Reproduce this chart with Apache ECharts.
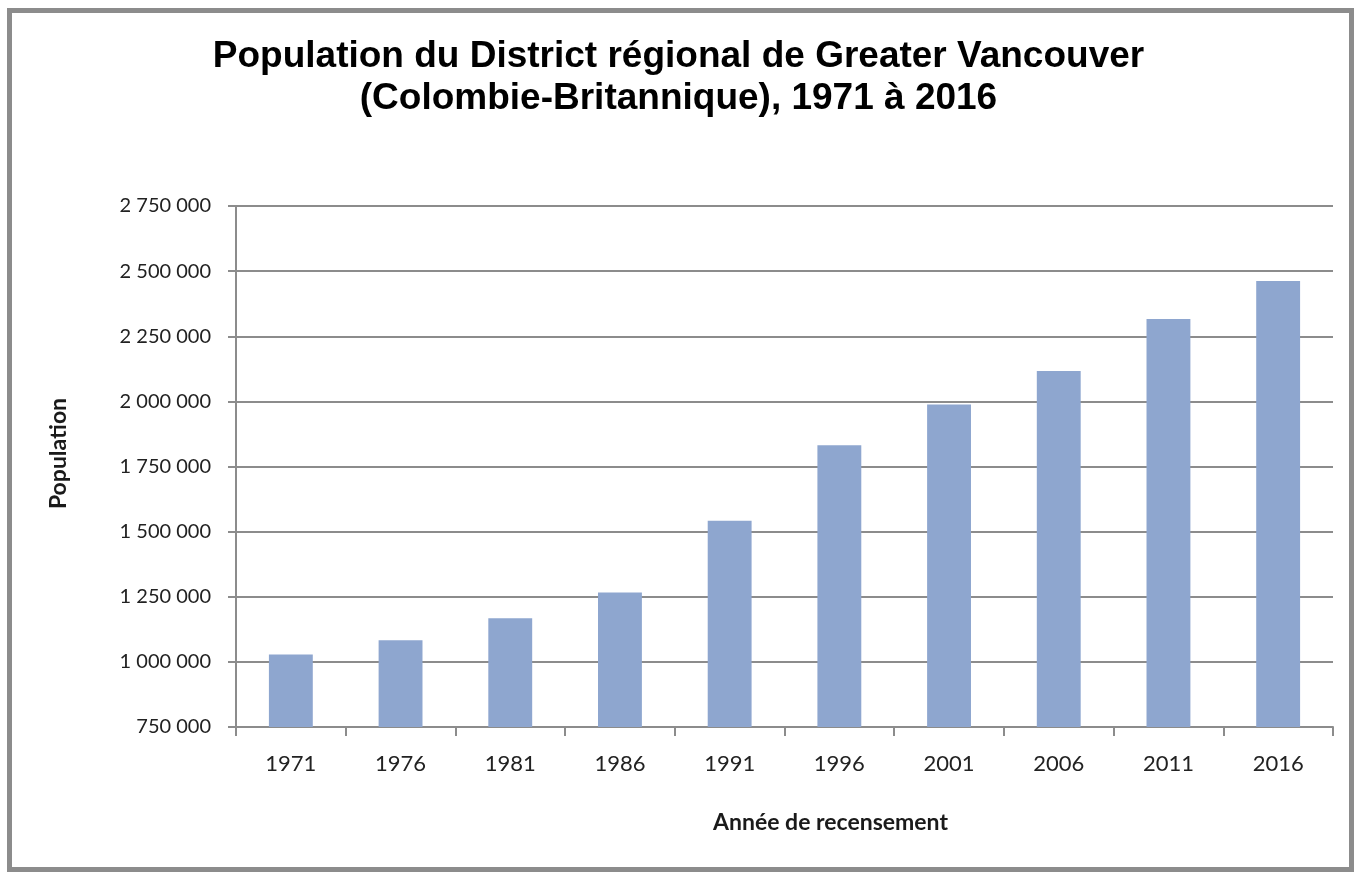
<!DOCTYPE html>
<html>
<head>
<meta charset="utf-8">
<script src="https://cdn.jsdelivr.net/npm/echarts@6/dist/echarts.min.js"></script>
<style>
html,body{margin:0;padding:0;background:#fff;}
#c{width:1357px;height:874px;}
</style>
</head>
<body>
<div id="c"></div>
<script>
const titleLines = ['Population du District régional de Greater Vancouver', '(Colombie-Britannique), 1971 à 2016'];
const categories = ['1971', '1976', '1981', '1986', '1991', '1996', '2001', '2006', '2011', '2016'];
const population = [1028000, 1083000, 1167000, 1266000, 1542000, 1832000, 1988000, 2117000, 2316000, 2462000];
const yMin = 750000, yMax = 2750000, yStep = 250000;
const xName = 'Année de recensement';
const yName = 'Population';

function fmt(v) { return String(v).replace(/\B(?=(\d{3})+(?!\d))/g, ' '); }

const chart = echarts.init(document.getElementById('c'));
const gray = '#8c8c8c';
chart.setOption({
  animation: false,
  backgroundColor: '#fff',
  title: {
    text: titleLines.join('\n'),
    left: 'center',
    top: 31,
    textStyle: { fontFamily: 'Liberation Sans', fontWeight: 'bold', fontSize: 37, lineHeight: 42, color: '#000' }
  },
  graphic: [{
    type: 'rect',
    shape: { x: 9.5, y: 10.5, width: 1342, height: 859 },
    style: { fill: 'none', stroke: gray, lineWidth: 5 },
    silent: true
  }],
  grid: { left: 236, right: 24, top: 206, bottom: 147 },
  xAxis: {
    type: 'category',
    data: categories,
    name: xName,
    nameLocation: 'middle',
    nameGap: 84,
    nameTextStyle: { fontFamily: 'Lato', fontWeight: 'bold', fontSize: 23, color: '#1a1a1a', padding: [0, 0, 0, 92] },
    axisLine: { lineStyle: { color: gray, width: 2 } },
    axisTick: { show: true, length: 9, alignWithLabel: false, lineStyle: { color: gray, width: 2 } },
    axisLabel: { fontFamily: 'Lato', fontSize: 22, color: '#222', margin: 26 },
    splitLine: { show: false }
  },
  yAxis: {
    type: 'value',
    min: yMin, max: yMax, interval: yStep,
    name: yName,
    nameLocation: 'middle',
    nameRotate: 90,
    nameGap: 166,
    nameTextStyle: { fontFamily: 'Lato', fontWeight: 'bold', fontSize: 23, color: '#1a1a1a', padding: [0, 0, 0, 26] },
    axisLine: { show: true, lineStyle: { color: gray, width: 2 } },
    axisTick: { show: true, length: 8, lineStyle: { color: gray, width: 2 } },
    axisLabel: { fontFamily: 'Lato', fontSize: 20, color: '#222', margin: 25, formatter: fmt },
    splitLine: { show: true, lineStyle: { color: gray, width: 2 } }
  },
  series: [{
    type: 'bar',
    data: population,
    barWidth: '40%',
    itemStyle: { color: '#8ea6cf' }
  }]
});
</script>
</body>
</html>
